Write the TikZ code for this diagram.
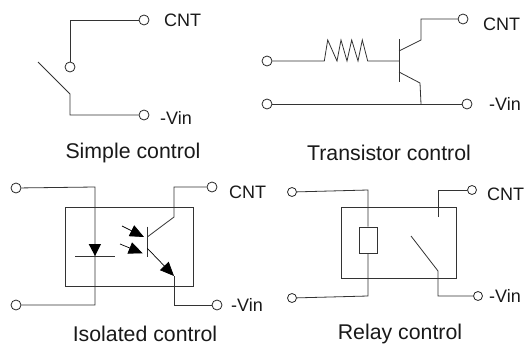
\documentclass[tikz,border=0pt]{standalone}
\usepackage{fontspec}
\setmainfont{Liberation Sans}
\usetikzlibrary{arrows.meta}
\tikzset{
  term/.style={circle,draw=black!85,fill=white,line width=0.8pt,minimum size=#1,inner sep=0pt},
  term/.default=10pt,
  wire/.style={line width=0.8pt,draw=black!80},
  lbl/.style={font=\fontsize{18}{20}\selectfont,text=black!90,inner sep=0pt},
  captxt/.style={font=\fontsize{21.3}{24}\selectfont,text=black!90,inner sep=0pt},
  led/.style={line width=0.7pt,-{Triangle[length=14pt,width=12pt]}}
}
\begin{document}
\begin{tikzpicture}[x=1pt,y=-1pt]
\useasboundingbox (0,0) rectangle (524,345);
% Simple control
\node[term] (a1) at (144,20) {};
\node[term] (a2) at (70,67) {};
\node[term] (a3) at (144,115) {};
\coordinate (ac) at (70,20);
\coordinate (as) at (70,94);
\coordinate (at) at (38,62);
\coordinate (ab) at (70,115);
\draw[wire] (a1) -- (ac) -- (a2);
\draw[wire] (at) -- (as) -- (ab) -- (a3);
\node[lbl,anchor=west] (a4) at (164,20) {CNT};
\node[lbl,anchor=west] (a5) at (160,118) {-Vin};
\node[captxt] (a6) at (133,153) {Simple control};
% Transistor control
\node[term] (b1) at (267,61) {};
\node[term] (b2) at (267,104) {};
\node[term] (b3) at (463,19) {};
\node[term] (b4) at (467,104) {};
\coordinate (bb) at (399,61);
\coordinate (bt) at (399,39);
\coordinate (bd) at (399,82);
\coordinate (bc1) at (399,51);
\coordinate (bc2) at (421,40);
\coordinate (bc3) at (421,19);
\coordinate (be1) at (399,72);
\coordinate (be2) at (420,83);
\coordinate (be3) at (421,104);
\draw[wire] (b1) -- (324.3,61) -- (327.7,40) -- (337,61) -- (341,40) -- (347,61) -- (351.7,40) -- (358,61) -- (362.3,40) -- (367.7,61) -- (bb);
\draw[wire] (bt) -- (bd);
\draw[wire] (bc1) -- (bc2) -- (bc3) -- (b3);
\draw[wire] (be1) -- (be2) -- (be3);
\draw[wire] (b2) -- (b4);
\node[lbl,anchor=west] (b5) at (483,24) {CNT};
\node[lbl,anchor=west] (b6) at (489,104) {-Vin};
\node[captxt] (b7) at (389,153) {Transistor control};
% Isolated control
\draw[wire] (65,207) rectangle (193,286);
\node[term] (c1) at (16,188) {};
\node[term] (c2) at (16,305) {};
\node[term] (c3) at (212,187) {};
\node[term] (c4) at (217,305) {};
\coordinate (c5) at (95,187);
\coordinate (c6) at (95,305);
\coordinate (c7) at (75,256.3);
\coordinate (c8) at (115,256.3);
\draw[wire] (c1) -- (c5) -- (c6) -- (c2);
\draw[wire] (c7) -- (c8);
\fill[black] (88.7,244) -- (101,244) -- (95,256) -- cycle;
\coordinate (ct) at (147.3,226.7);
\coordinate (cd) at (147.3,256.7);
\draw[wire,line width=1.2pt] (ct) -- (cd);
\coordinate (cc1) at (147.3,237);
\coordinate (cc2) at (174,217);
\coordinate (cc3) at (174,187);
\coordinate (ce1) at (147.3,248.3);
\coordinate (ce2) at (174,276);
\coordinate (ce3) at (174,305);
\draw[wire] (cc1) -- (cc2) -- (cc3) -- (c3);
\draw[led] (ce1) -- (ce2);
\draw[wire] (ce2) -- (ce3) -- (c4);
\coordinate (l1) at (122,226);
\coordinate (l2) at (144,237);
\coordinate (l3) at (120,244);
\coordinate (l4) at (142.7,253.3);
\draw[led] (l1) -- (l2);
\draw[led] (l3) -- (l4);
\node[lbl,anchor=west] (c9) at (229,192) {CNT};
\node[lbl,anchor=west] (c10) at (231,305) {-Vin};
\node[captxt] (c11) at (145,334) {Isolated control};
% Relay control
\draw[wire] (341,207) rectangle (456,278);
\node[term=9pt] (d1) at (292,192) {};
\node[term=9pt] (d2) at (292,298) {};
\node[term=9pt] (d3) at (472,190) {};
\node[term=9pt] (d4) at (478,296) {};
\node[draw=black!80,line width=0.8pt,fill=white,minimum width=18pt,minimum height=26pt,inner sep=0pt] (coil) at (368,240) {};
\coordinate (d5) at (368,190);
\coordinate (d6) at (368,296);
\draw[wire] (d1) -- (d5) -- (coil.north);
\draw[wire] (coil.south) -- (d6) -- (d2);
\coordinate (d7) at (438,217);
\coordinate (d8) at (438,190);
\coordinate (d9) at (411,236);
\coordinate (d10) at (438,271);
\coordinate (d11) at (438,296);
\draw[wire] (d7) -- (d8) -- (d3);
\draw[wire] (d9) -- (d10) -- (d11) -- (d4);
\node[lbl,anchor=west] (d12) at (487,194) {CNT};
\node[lbl,anchor=west] (d13) at (489,296) {-Vin};
\node[captxt] (d14) at (400,334) {Relay control};
\end{tikzpicture}
\end{document}
